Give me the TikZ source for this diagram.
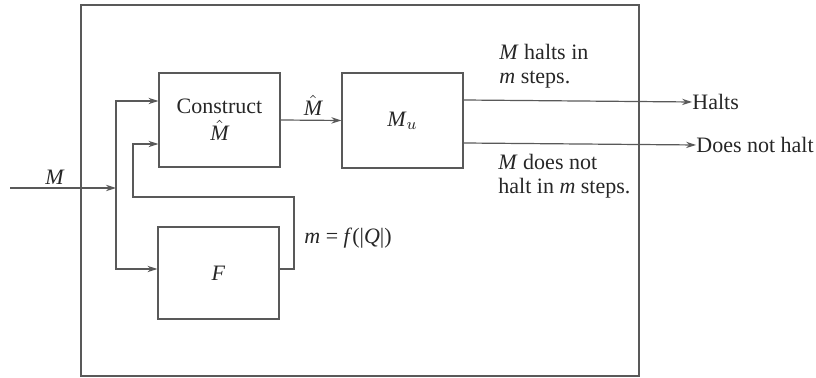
\documentclass[tikz,border=0pt]{standalone}
\usepackage{fontspec}
\setmainfont{Liberation Serif}
\usetikzlibrary{arrows.meta,calc}
\begin{document}
\begin{tikzpicture}[x=0.5pt,y=-0.5pt,
  line/.style={draw=black!65,line width=0.6pt},
  arr/.style={line,-{Stealth[length=5pt,width=3.2pt]}},
  box/.style={draw=black!65,line width=0.6pt,rectangle,inner sep=0pt,align=center,text=black!85},
  lbl/.style={inner sep=0pt,text=black!85,align=left},
  every node/.append style={font=\fontsize{11}{12}\selectfont}]
\useasboundingbox (0,0) rectangle (816,378);
\draw[line] (81,5) rectangle (639,376);
\node[box,minimum width=60.5pt,minimum height=47pt] (construct) at (219.5,120) {Construct\\[1.5pt]$\hat{\textit{M}}$};
\node[box,minimum width=60.5pt,minimum height=46pt] (F) at (218.5,273) {\textit{F}};
\node[box,minimum width=60.5pt,minimum height=47.5pt] (Mu) at (402.5,120.5) {\textit{M}$_{\scriptstyle u}$};
\coordinate (in) at (10,188);
\coordinate (j) at (116,188);
\coordinate (fb1) at (294,197);
\coordinate (fb2) at (133,197);
\node[lbl,anchor=west] (halts) at (692,102) {Halts};
\node[lbl,anchor=west] (nohalt) at (696,145) {Does not halt};
\draw[arr] (in) -- (j);
\draw[arr] (j) |- ($(construct.west)+(0,-19)$);
\draw[arr] (j) |- ($(F.west)+(0,-4)$);
\draw[arr] ($(F.east)+(0,-4)$) -| (fb1) -- (fb2) |- ($(construct.west)+(0,24)$);
\draw[arr] (construct.east) -- (Mu.west);
\draw[arr] ($(Mu.east)+(0,-20.5)$) -- (halts.west);
\draw[arr] ($(Mu.east)+(0,22.5)$) -- (nohalt.west);
\node[lbl] (lM) at (55,177) {\textit{M}};
\node[lbl] (lMhat) at (313,105) {$\hat{\textit{M}}$};
\node[lbl,anchor=west] (lm) at (304,238) {\textit{m} = \textit{f}(|\textit{Q}|)};
\node[lbl,anchor=west] (lhalt) at (499,66) {\textit{M} halts in\\\textit{m} steps.};
\node[lbl,anchor=west] (lnohalt) at (498,176) {\textit{M} does not\\halt in \textit{m} steps.};
\end{tikzpicture}
\end{document}
